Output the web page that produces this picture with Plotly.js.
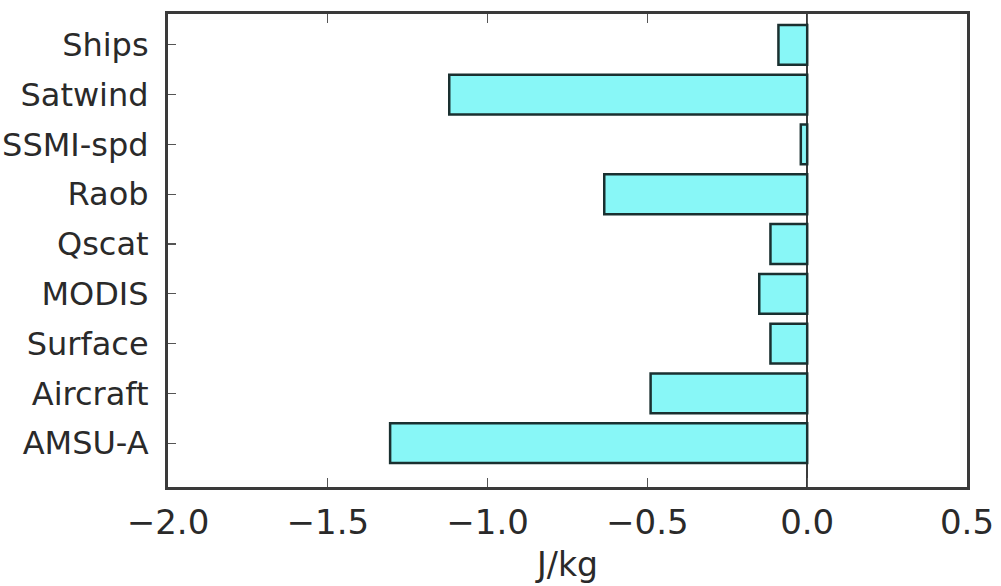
<!DOCTYPE html>
<html>
<head>
<meta charset="utf-8">
<script src="https://cdn.plot.ly/plotly-3.0.1.min.js"></script>
<style>html,body{margin:0;padding:0;background:#fff;}#chart{width:1001px;height:586px;}</style>
</head>
<body>
<div id="chart"></div>
<script>
// Categories listed bottom to top
const categories = ["AMSU-A", "Aircraft", "Surface", "MODIS", "Qscat", "Raob", "SSMI-spd", "Satwind", "Ships"];
const values = [-1.305, -0.49, -0.115, -0.15, -0.115, -0.635, -0.02, -1.12, -0.09];
const xTicks = [-2.0, -1.5, -1.0, -0.5, 0.0, 0.5];
const xLabel = "J/kg";

const trace = {
  type: "bar",
  orientation: "h",
  y: categories,
  x: values,
  width: 0.8,
  marker: {color: "#88f7f7", line: {color: "#1a3030", width: 2.5}},
  hoverinfo: "x+y"
};

const layout = {
  width: 1001, height: 586,
  margin: {l: 168, r: 34, t: 14, b: 99},
  paper_bgcolor: "#ffffff", plot_bgcolor: "#ffffff",
  showlegend: false,
  font: {family: "DejaVu Sans, Verdana, sans-serif", color: "#2a2a2a"},
  xaxis: {
    range: [-2.0, 0.5],
    tickvals: xTicks,
    tickformat: ".1f",
    ticks: "inside", ticklen: 9, tickwidth: 1.2, tickcolor: "#555",
    showline: true, linecolor: "#3a3a3a", linewidth: 3, mirror: "ticks",
    showgrid: false,
    zeroline: true, zerolinecolor: "#3a3a3a", zerolinewidth: 1.5,
    tickfont: {size: 34, color: "#2a2a2a"},
    ticklabelstandoff: 3,
    title: {text: xLabel, font: {size: 33, color: "#2a2a2a"}, standoff: 13}
  },
  yaxis: {
    type: "category",
    range: [-0.88, 8.62],
    ticks: "inside", ticklen: 8, tickwidth: 1.2, tickcolor: "#555",
    showline: true, linecolor: "#3a3a3a", linewidth: 3, mirror: true,
    showgrid: false, zeroline: false,
    tickfont: {size: 32, color: "#2a2a2a"},
    ticklabelstandoff: 10
  },
  bargap: 0.2
};

Plotly.newPlot("chart", [trace], layout, {displayModeBar: false, staticPlot: true});
</script>
</body>
</html>
